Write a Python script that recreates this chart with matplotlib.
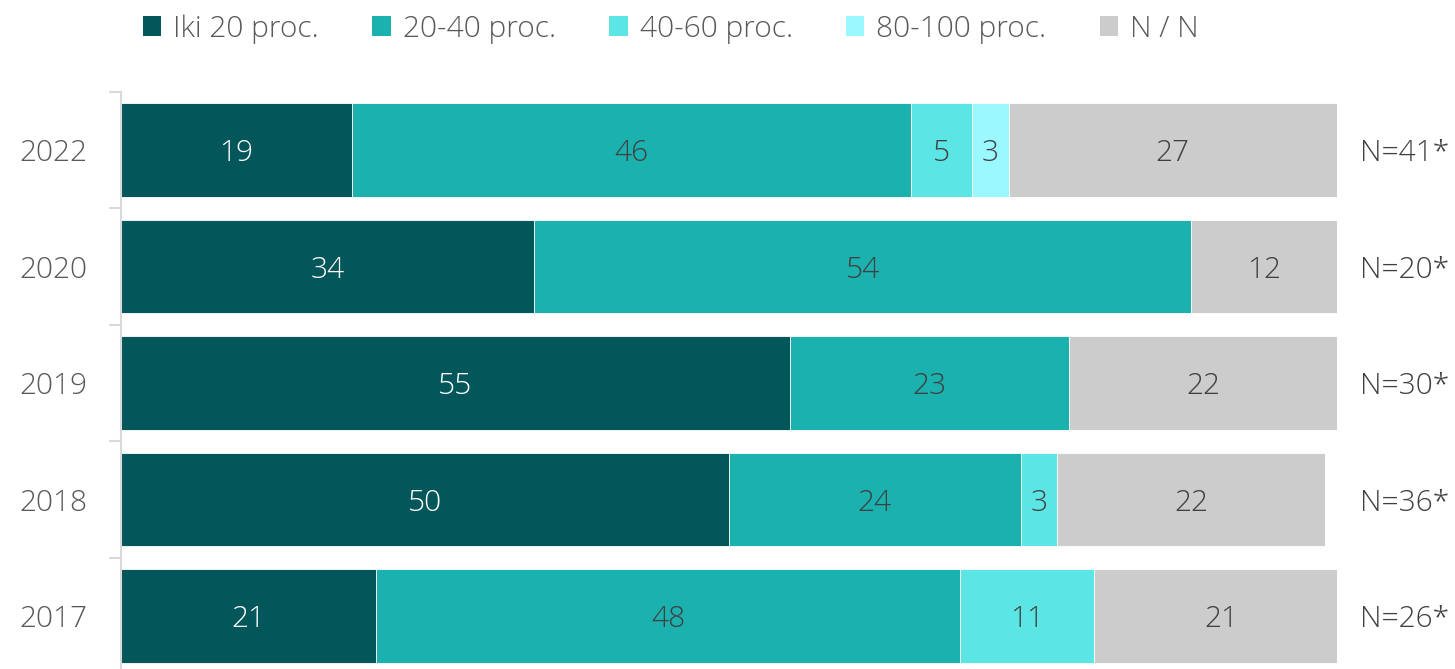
import matplotlib.pyplot as plt
from matplotlib.patches import Patch

# data
years = ['2022', '2020', '2019', '2018', '2017']
series = ['Iki 20 proc.', '20-40 proc.', '40-60 proc.', '80-100 proc.', 'N / N']
iki20 = [19, 34, 55, 50, 21]
p20_40 = [46, 54, 23, 24, 48]
p40_60 = [5, 0, 0, 3, 11]
p80_100 = [3, 0, 0, 0, 0]
nn = [27, 12, 22, 22, 21]
n_labels = ['N=41*', 'N=20*', 'N=30*', 'N=36*', 'N=26*']

colors = ['#03565A', '#1BB1AF', '#5CE5E5', '#99F9FF', '#CCCCCC']
text_colors = ['white', '#404040', '#404040', '#404040', '#404040']
grey = '#595959'
fs = 21.5

plt.rcParams['font.family'] = ['Open Sans', 'DejaVu Sans']

fig = plt.figure(figsize=(14.55, 6.69), dpi=100)
ax = fig.add_axes([121 / 1455, 1 - 674.25 / 669, 1216 / 1455, 582.5 / 669])

y = list(range(len(years)))
left = [0] * len(years)
for vals, col, tcol in zip([iki20, p20_40, p40_60, p80_100, nn], colors, text_colors):
    ax.barh(y, vals, left=left, height=0.8, color=col, edgecolor='white', linewidth=0.6)
    for i, v in enumerate(vals):
        if v > 0:
            ax.text(left[i] + v / 2, i, str(v), ha='center', va='center_baseline',
                    fontsize=fs, color=tcol, fontweight='light')
    left = [l + v for l, v in zip(left, vals)]

# N labels on the right
for i, lab in enumerate(n_labels):
    ax.text(101.9, i, lab, ha='left', va='center_baseline', fontsize=fs, color='#404040',
            fontweight='light', clip_on=False)

ax.set_xlim(0, 100)
ax.set_ylim(len(years) - 0.5, -0.5)
ax.set_yticks(y)
ax.set_yticklabels(years, fontsize=fs, color=grey, fontweight='light', va='center_baseline')
ax.set_yticks([i - 0.5 for i in range(len(years) + 1)], minor=True)
ax.tick_params(axis='y', which='major', length=0, pad=24)
ax.tick_params(axis='y', which='minor', length=9, color='#D9D9D9', width=1.5)
ax.set_xticks([])
for s in ['top', 'right', 'bottom']:
    ax.spines[s].set_visible(False)
ax.spines['left'].set_color('#D9D9D9')
ax.spines['left'].set_linewidth(1.5)

handles = [Patch(facecolor=c, edgecolor='none') for c in colors]
fig.legend(handles, series, loc='upper left', bbox_to_anchor=(0.0798, 1.019), ncol=5,
           frameon=False, labelcolor=grey, handlelength=0.62,
           handleheight=0.62, handletextpad=0.4, columnspacing=1.78,
           prop={'weight': 'light', 'size': fs})

fig.savefig('out.png', dpi=100)
